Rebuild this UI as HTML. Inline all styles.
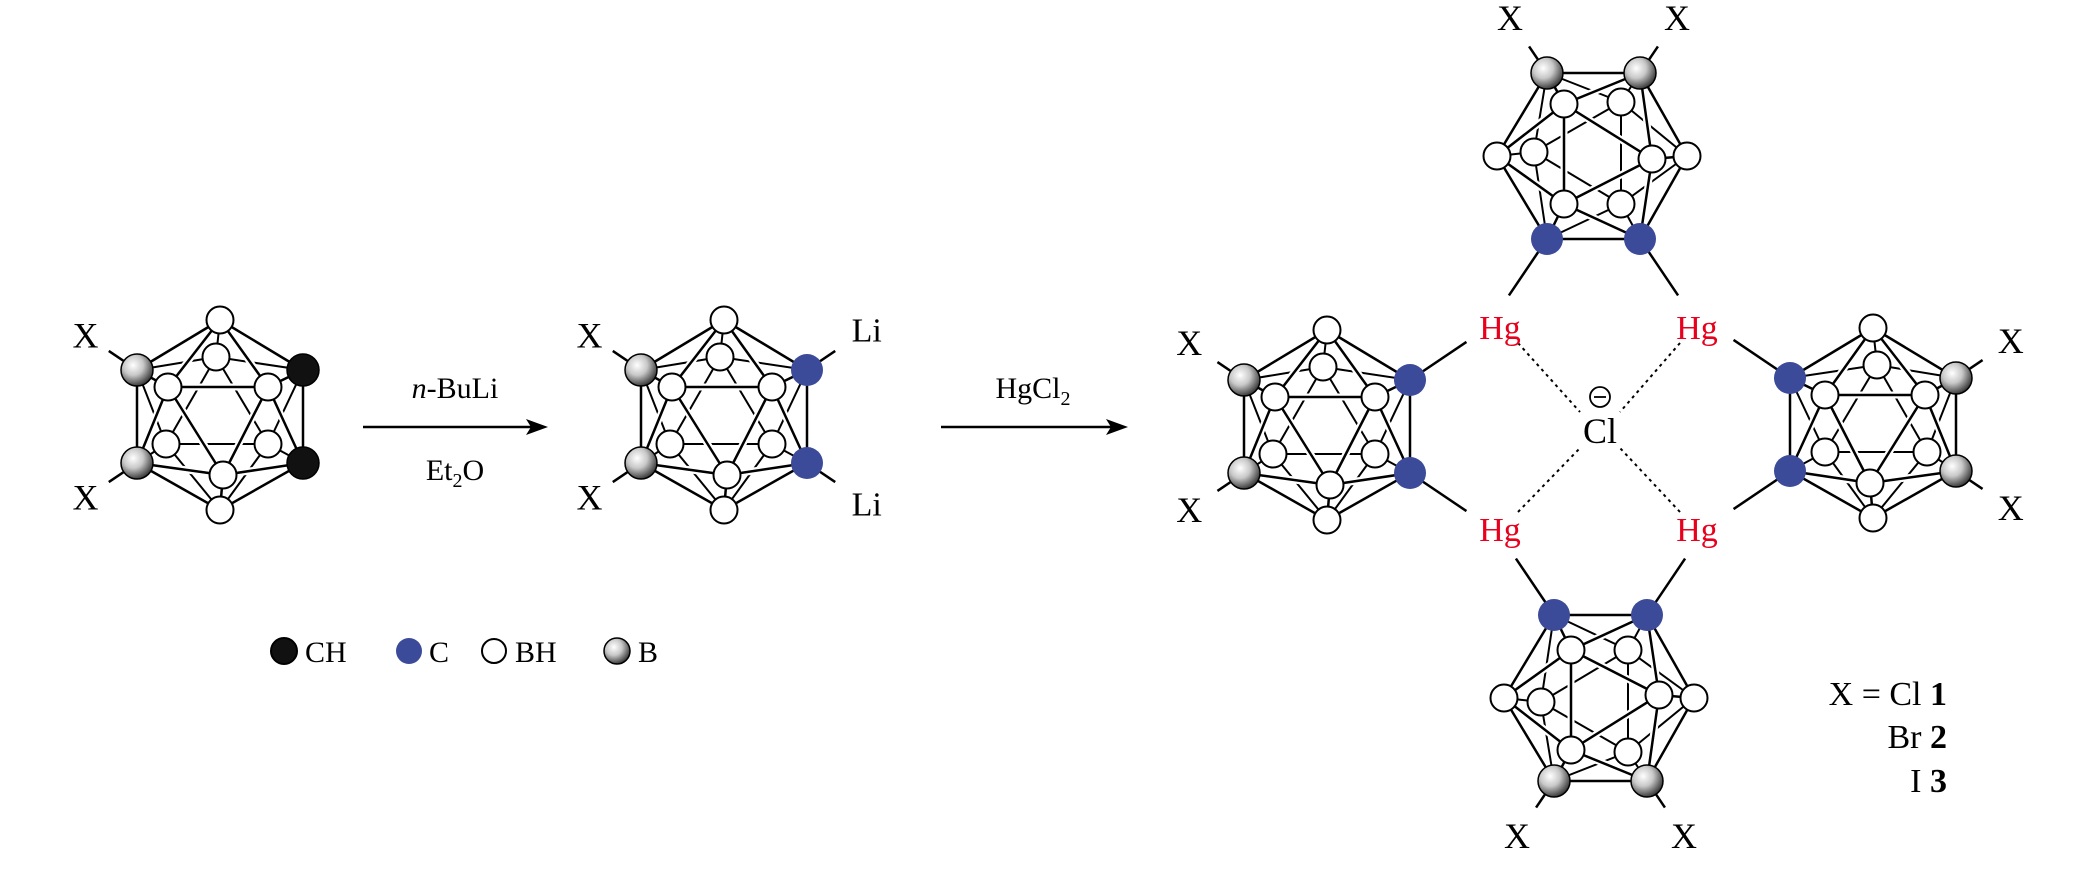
<!DOCTYPE html>
<html><head><meta charset="utf-8">
<style>
html,body{margin:0;padding:0;background:#fff;}
svg{display:block;}
text{font-family:"Liberation Serif",serif;}
</style></head>
<body>
<svg id="s" width="2079" height="871" viewBox="0 0 2079 871" xmlns="http://www.w3.org/2000/svg">
<defs>
<radialGradient id="gb" cx="0.38" cy="0.35" r="0.7">
<stop offset="0" stop-color="#ffffff"/>
<stop offset="0.45" stop-color="#c8c8c8"/>
<stop offset="1" stop-color="#2a2a2a"/>
</radialGradient>
</defs>
<g id="g"></g>
<line x1="363" y1="427" x2="532" y2="427" stroke="#000" stroke-width="2.5"/>
<polygon points="548,427 526,419 531,427 526,435" fill="#000"/>
<line x1="941" y1="427" x2="1112" y2="427" stroke="#000" stroke-width="2.5"/>
<polygon points="1128,427 1106,419 1111,427 1106,435" fill="#000"/>
<text x="455" y="398" font-size="30" text-anchor="middle"><tspan font-style="italic">n</tspan>-BuLi</text>
<text x="455" y="480" font-size="30" text-anchor="middle">Et<tspan font-size="20" dy="7">2</tspan><tspan dy="-7">O</tspan></text>
<text x="1033" y="398" font-size="30" text-anchor="middle">HgCl<tspan font-size="20" dy="7">2</tspan></text>
<circle cx="284" cy="651" r="13" fill="#111" stroke="#000" stroke-width="2"/>
<text x="305" y="662" font-size="30">CH</text>
<circle cx="409" cy="651" r="13" fill="#3c4a9a"/>
<text x="429" y="662" font-size="30">C</text>
<circle cx="494" cy="651" r="12" fill="#fff" stroke="#000" stroke-width="2"/>
<text x="515" y="662" font-size="30">BH</text>
<circle cx="617" cy="651" r="13" fill="url(#gb)" stroke="#000" stroke-width="1.5"/>
<text x="638" y="662" font-size="30">B</text>
<circle cx="1600" cy="397" r="10" fill="none" stroke="#000" stroke-width="1.8"/>
<line x1="1594" y1="397" x2="1606" y2="397" stroke="#000" stroke-width="1.8"/>
<text x="1600" y="443" font-size="36" text-anchor="middle">Cl</text>
<g stroke="#000" stroke-width="2" stroke-dasharray="3 4">
<line x1="1518" y1="343" x2="1580" y2="412"/>
<line x1="1680" y1="343" x2="1620" y2="412"/>
<line x1="1518" y1="512" x2="1580" y2="448"/>
<line x1="1680" y1="512" x2="1620" y2="448"/>
</g>
<g fill="#e8001c" font-size="34" text-anchor="middle">
<text x="1500" y="339">Hg</text>
<text x="1697" y="339">Hg</text>
<text x="1500" y="541">Hg</text>
<text x="1697" y="541">Hg</text>
</g>
<g font-size="34" text-anchor="end">
<text x="1947" y="705">X = Cl <tspan font-weight="bold">1</tspan></text>
<text x="1947" y="748">Br <tspan font-weight="bold">2</tspan></text>
<text x="1947" y="792">I <tspan font-weight="bold">3</tspan></text>
</g>
</svg>
<script>
const NS="http://www.w3.org/2000/svg";
const g=document.getElementById('g');
function el(t,a,txt){const e=document.createElementNS(NS,t);for(const k in a)e.setAttribute(k,a[k]);if(txt)e.textContent=txt;g.appendChild(e);return e;}
const G={T:[0,-95],B1:[-83,-45],C1:[83,-45],B2:[-83,48],C2:[83,48],Bo:[0,95],UM:[-4,-58],UL:[-52,-28],UR:[48,-28],LL:[-54,29],LR:[48,29],LM:[3,60]};
const E=[["T","B1"],["T","UL"],["T","UR"],["T","C1"],["T","UM"],["Bo","B2"],["Bo","LM"],["Bo","C2"],["Bo","LR"],["Bo","LL"],
["B1","UL"],["UL","UR"],["UR","C1"],["C1","UM"],["UM","B1"],["B2","LM"],["LM","C2"],["C2","LR"],["LR","LL"],["LL","B2"],
["B1","B2"],["B1","LL"],["UL","B2"],["UL","LM"],["UR","LM"],["UR","C2"],["C1","C2"],["C1","LR"],["UM","LR"],["UM","LL"]];
const back=new Set(["UM","LL","LR"]);
function mol(cx,cy,tf,cType,subs){
  const P={};for(const k in G){const t=tf(G[k][0],G[k][1]);P[k]=[cx+t[0],cy+t[1]];}
  for(const s of subs){
    const a=P[s.at];const d0=s.dir;const d=tf(d0[0],d0[1]);
    el('line',{x1:a[0],y1:a[1],x2:a[0]+d[0]*s.len,y2:a[1]+d[1]*s.len,stroke:'#000','stroke-width':2.5});
    if(s.label){el('text',{x:a[0]+d[0]*s.ld,y:a[1]+d[1]*s.ld+12,'font-size':s.fs||36,'text-anchor':'middle'},s.label);}
  }
  for(const [a,b] of E){if(back.has(a)||back.has(b))el('line',{x1:P[a][0],y1:P[a][1],x2:P[b][0],y2:P[b][1],stroke:'#000','stroke-width':2});}
  for(const k of back)el('circle',{cx:P[k][0],cy:P[k][1],r:13.5,fill:'#fff',stroke:'#000','stroke-width':2});
  for(const [a,b] of E){if(!(back.has(a)||back.has(b)))el('line',{x1:P[a][0],y1:P[a][1],x2:P[b][0],y2:P[b][1],stroke:'#fff','stroke-width':7});}
  for(const [a,b] of E){if(!(back.has(a)||back.has(b)))el('line',{x1:P[a][0],y1:P[a][1],x2:P[b][0],y2:P[b][1],stroke:'#000','stroke-width':2.5});}
  for(const k of ["T","Bo","UL","UR","LM"])el('circle',{cx:P[k][0],cy:P[k][1],r:13.5,fill:'#fff',stroke:'#000','stroke-width':2});
  for(const k of ["B1","B2"])el('circle',{cx:P[k][0],cy:P[k][1],r:16,fill:'url(#gb)',stroke:'#000','stroke-width':1.5});
  for(const k of ["C1","C2"]){
    if(cType==='ch')el('circle',{cx:P[k][0],cy:P[k][1],r:16,fill:'#111',stroke:'#000','stroke-width':1.5});
    else el('circle',{cx:P[k][0],cy:P[k][1],r:16,fill:'#3c4a9a'});
  }
}
const id=(x,y)=>[x,y];
const xs=[{at:"B1",dir:[-0.83,-0.56],len:34,ld:62,label:"X"},{at:"B2",dir:[-0.83,0.56],len:34,ld:62,label:"X"}];
mol(220,415,id,'ch',xs);
mol(724,415,id,'c',xs.concat([{at:"C1",dir:[0.83,-0.56],len:34,ld:72,label:"Li",fs:34},{at:"C2",dir:[0.83,0.56],len:34,ld:72,label:"Li",fs:34}]));
const hg=[{at:"C1",dir:[0.83,-0.56],len:68},{at:"C2",dir:[0.83,0.56],len:68}];
const xs2=[{at:"B1",dir:[-0.83,-0.56],len:32,ld:66,label:"X"},{at:"B2",dir:[-0.83,0.56],len:32,ld:66,label:"X"}];
mol(1327,425,id,'c',xs2.concat(hg));
mol(1873,423,(x,y)=>[-x,y],'c',xs2.concat(hg));
mol(1592,156,(x,y)=>[y,x],'c',xs2.concat(hg));
mol(1599,698,(x,y)=>[y,-x],'c',xs2.concat(hg));
</script>
</body></html>
